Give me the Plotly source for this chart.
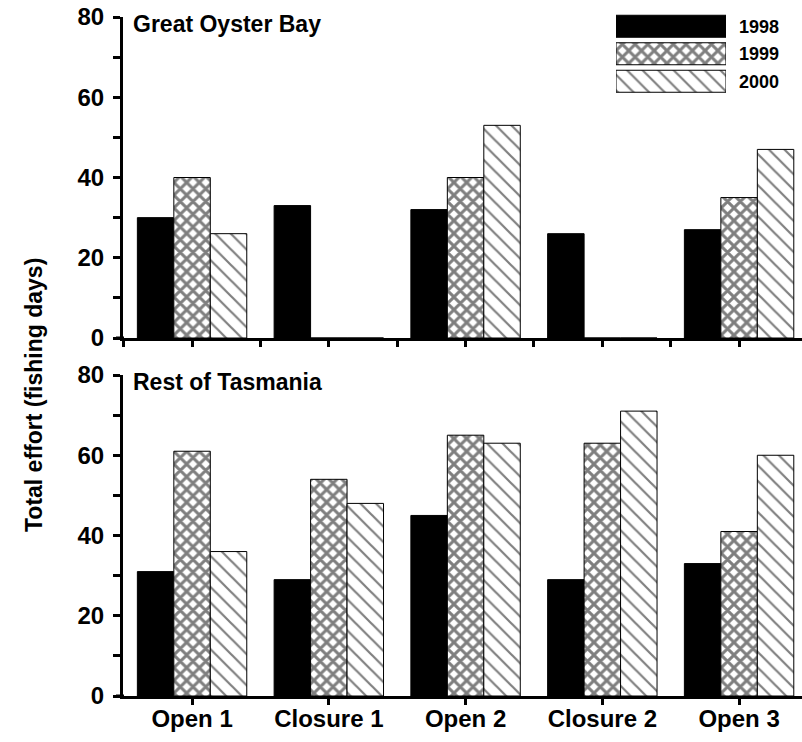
import plotly.graph_objects as go

categories = ["Open 1", "Closure 1", "Open 2", "Closure 2", "Open 3"]
years = ["1998", "1999", "2000"]

# Great Oyster Bay
gob_1998 = [30, 33, 32, 26, 27]
gob_1999 = [40, 0, 40, 0, 35]
gob_2000 = [26, 0, 53, 0, 47]

# Rest of Tasmania
rot_1998 = [31, 29, 45, 29, 33]
rot_1999 = [61, 54, 65, 63, 41]
rot_2000 = [36, 48, 63, 71, 60]

y_ticks = [0, 10, 20, 30, 40, 50, 60, 70, 80]
y_ticklabels = ["0", "", "20", "", "40", "", "60", "", "80"]
legend_span = [1, 1, 1]

FONT = "Liberation Sans, Arial, sans-serif"
W, H = 802, 742
ML, MR, MT, MB = 123, 0, 10, 46
PH = H - MT - MB
PW = W - ML - MR

def py(pix):
    return (H - MB - pix) / PH

def px(pix):
    return (pix - ML) / PW

styles = {
    "1998": dict(color="black", pattern=dict(shape="")),
    "1999": dict(color="white", pattern=dict(shape="x", size=9, solidity=0.55, fgcolor="black", bgcolor="white")),
    "2000": dict(color="white", pattern=dict(shape="\\", size=11, solidity=0.2, fgcolor="black", bgcolor="white")),
}

xidx = list(range(len(categories)))
fig = go.Figure()

panels = [("x", "y", [gob_1998, gob_1999, gob_2000]),
          ("x2", "y2", [rot_1998, rot_1999, rot_2000])]
for xa, ya, series in panels:
    for yr, vals in zip(years, series):
        st = styles[yr]
        fig.add_trace(go.Bar(
            x=xidx, y=vals, name=yr, xaxis=xa, yaxis=ya, showlegend=False,
            marker=dict(color=st["color"], pattern=st["pattern"],
                        line=dict(color="black", width=1)),
        ))

# legend drawn as bars on a small axis
for yr, v in zip(years, legend_span):
    st = styles[yr]
    fig.add_trace(go.Bar(
        x=[v], y=[yr], orientation="h", xaxis="x3", yaxis="y3", showlegend=False,
        marker=dict(color=st["color"], pattern=st["pattern"],
                    line=dict(color="black", width=1)),
    ))

xr = [-0.505, 4.46]
LW = 3
common_x = dict(range=xr, showline=True, linecolor="black", linewidth=LW,
                ticks="outside", ticklen=6, tickwidth=LW, tickcolor="black",
                showgrid=False, zeroline=False, fixedrange=True, automargin=False)
common_y = dict(range=[0, 80], showline=True, linecolor="black", linewidth=LW,
                ticks="outside", ticklen=7, tickwidth=LW, tickcolor="black",
                tickvals=y_ticks,
                ticktext=["<b>%s</b>" % t if t else "" for t in y_ticklabels],
                tickfont=dict(family=FONT, size=24, color="black"),
                ticklabelstandoff=4, automargin=False, ticklabeloverflow="allow",
                showgrid=False, zeroline=False, fixedrange=True)

fig.update_layout(
    width=W, height=H,
    margin=dict(l=ML, r=MR, t=MT, b=MB, autoexpand=False),
    paper_bgcolor="white", plot_bgcolor="white",
    barmode="group", bargap=0.2, bargroupgap=0,
    font=dict(family=FONT, color="black"),
    hovermode=False,
    xaxis=dict(domain=[0, 1], anchor="y",
               tickvals=[-0.5, 0, 0.5, 1, 1.5, 2, 2.5, 3, 3.5, 4],
               showticklabels=False, **common_x),
    yaxis=dict(domain=[py(338), py(17)], anchor="x", **common_y),
    xaxis2=dict(domain=[0, 1], anchor="y2",
                tickvals=xidx, ticktext=["<b>%s</b>" % c for c in categories],
                tickfont=dict(family=FONT, size=24, color="black"),
                ticklabelstandoff=-7, ticklabeloverflow="allow",
                **common_x),
    yaxis2=dict(domain=[0, py(375)], anchor="x2", **common_y),
    xaxis3=dict(domain=[px(616), px(726)], anchor="y3", range=[0, 1],
                visible=False, fixedrange=True, automargin=False),
    yaxis3=dict(domain=[py(95), py(12.5)], anchor="x3", side="right",
                categoryorder="array", categoryarray=years, autorange="reversed",
                showline=False, showgrid=False, zeroline=False, ticks="",
                ticklabelstandoff=12, tickvals=years, automargin=False,
                ticklabeloverflow="allow",
                ticktext=["<b>%s</b>" % y for y in years],
                tickfont=dict(family=FONT, size=18, color="black"), fixedrange=True),
    showlegend=False,
)

# small extension of x-axis lines left of the y-axis
for ypix in (338, 696):
    fig.add_shape(type="line", xref="paper", yref="paper",
                  x0=px(116), x1=px(124), y0=py(ypix), y1=py(ypix),
                  line=dict(color="black", width=LW))

fig.add_annotation(text="<b>Great Oyster Bay</b>", xref="paper", yref="paper",
                   x=px(131), y=py(9), xanchor="left", yanchor="top", showarrow=False,
                   font=dict(family=FONT, size=23, color="black"))
fig.add_annotation(text="<b>Rest of Tasmania</b>", xref="paper", yref="paper",
                   x=px(131), y=py(367), xanchor="left", yanchor="top", showarrow=False,
                   font=dict(family=FONT, size=23, color="black"))
fig.add_annotation(text="<b>Total effort (fishing days)</b>", xref="paper", yref="paper",
                   x=px(34), y=py(395), xanchor="center", yanchor="middle", textangle=-90,
                   showarrow=False, font=dict(family=FONT, size=23, color="black"))

fig.write_html("out.html", config={"displayModeBar": False, "staticPlot": True},
               post_script="document.body.style.margin='0';document.body.style.overflow='hidden';")
